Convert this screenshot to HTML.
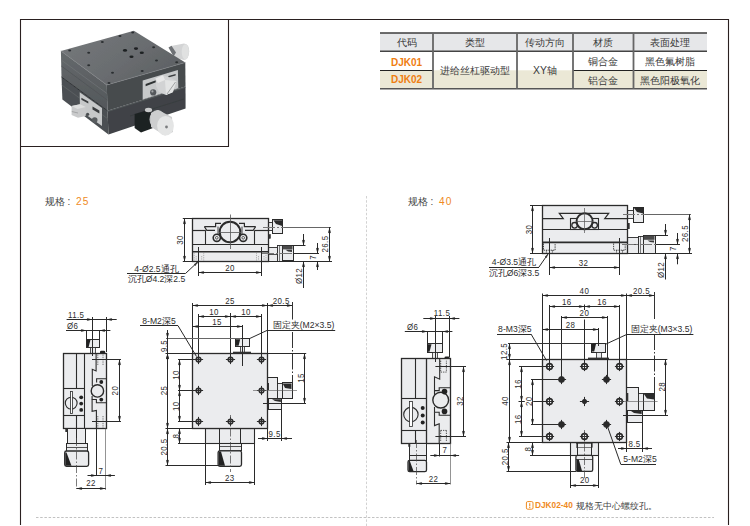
<!DOCTYPE html>
<html><head><meta charset="utf-8">
<style>
html,body{margin:0;padding:0;background:#fff;}
body{width:750px;height:526px;overflow:hidden;position:relative;font-family:"Liberation Sans",sans-serif;}
svg{position:absolute;left:0;top:0;}
svg text{font-family:"Liberation Sans",sans-serif;}
table.t{position:absolute;left:380px;top:32px;border-collapse:collapse;font-size:10.5px;color:#3a3a3a;}
</style></head><body>
<svg width="750" height="526" viewBox="0 0 750 526">
<line x1="20.00" y1="19.50" x2="728.50" y2="19.50" stroke="#2a2020" stroke-width="1.1"/>
<line x1="20.50" y1="19.00" x2="20.50" y2="525.00" stroke="#2a2020" stroke-width="1.1"/>
<line x1="728.50" y1="19.00" x2="728.50" y2="525.00" stroke="#2a2020" stroke-width="1.1"/>
<line x1="20.00" y1="146.50" x2="228.50" y2="146.50" stroke="#2a2020" stroke-width="1.1"/>
<line x1="228.50" y1="19.00" x2="228.50" y2="147.00" stroke="#2a2020" stroke-width="1.1"/>
<line x1="36.00" y1="517.50" x2="714.00" y2="517.50" stroke="#c2c2c2" stroke-width="1" stroke-dasharray="2.5 1.7"/>
<line x1="366.50" y1="196.00" x2="366.50" y2="526.00" stroke="#d2d2d2" stroke-width="1" stroke-dasharray="2.5 1.7"/>
<defs>
<linearGradient id="gtop" x1="0" y1="0" x2="1" y2="0.6">
<stop offset="0" stop-color="#76797c"/><stop offset="0.6" stop-color="#6a6d70"/><stop offset="1" stop-color="#5e6164"/></linearGradient>
<linearGradient id="gleft" x1="0" y1="0" x2="0" y2="1">
<stop offset="0" stop-color="#65696c"/><stop offset="1" stop-color="#53575a"/></linearGradient>
<linearGradient id="gknob" x1="0" y1="0" x2="1" y2="1">
<stop offset="0" stop-color="#eeeeee"/><stop offset="1" stop-color="#a4a6a7"/></linearGradient>
<linearGradient id="gknob2" x1="0" y1="0" x2="1" y2="0">
<stop offset="0" stop-color="#9c9ea0"/><stop offset="0.5" stop-color="#d9dadb"/><stop offset="1" stop-color="#c2c4c5"/></linearGradient>
<filter id="soft" x="-5%" y="-5%" width="110%" height="110%"><feGaussianBlur stdDeviation="0.35"/></filter>
</defs>
<g filter="url(#soft)">
<path d="M171,46 L184,43.5 Q189.5,44 189.2,51.5 Q188.8,59.5 184,60 L174,57.5 Z" fill="#d3d4d5"/>
<ellipse cx="185.3" cy="51.8" rx="3.6" ry="7.6" fill="#e0e1e1"/>
<polygon points="168.5,47.5 171.5,45.8 176,52.5 173.5,56.5" fill="#6e7174"/>
<polygon points="60.9,50.9 106.8,84.9 107.5,110.8 61.5,77" fill="url(#gleft)"/>
<polygon points="61.5,77 107.5,110.8 108.5,134.5 62.4,99.5" fill="#4c5053"/>
<polyline points="61.2,60 107,93.5" stroke="#6e7275" stroke-width="0.8" fill="none"/>
<polyline points="61.3,66 107.2,100" stroke="#505457" stroke-width="0.8" fill="none"/>
<polyline points="61.8,85 108,119" stroke="#5e6265" stroke-width="0.8" fill="none"/>
<polygon points="106.8,84.9 185.3,62.5 185.5,86.6 107.5,110.8" fill="#474b4e"/>
<polygon points="107.5,110.8 185.5,86.6 185.6,108.4 108.5,134.5" fill="#3f4346"/>
<polyline points="107.5,111.5 185.5,87.3" stroke="#5c6063" stroke-width="0.7" fill="none"/>
<polyline points="130,116 184,99" stroke="#34373a" stroke-width="0.6" fill="none"/>
<polygon points="60.9,50.9 133.9,30.7 185.3,62.5 106.8,84.9" fill="url(#gtop)"/>
<polyline points="60.9,50.9 106.8,84.9 185.3,62.5" stroke="#7c8083" stroke-width="0.7" fill="none"/>
<polyline points="61.5,77 107.5,110.8" stroke="#2f3235" stroke-width="1" fill="none"/>
<ellipse cx="69.7" cy="50.4" rx="1.5" ry="1" fill="#2c2f31"/>
<ellipse cx="88.7" cy="52.8" rx="1.5" ry="1" fill="#2c2f31"/>
<ellipse cx="102.3" cy="41.9" rx="1.5" ry="1" fill="#2c2f31"/>
<ellipse cx="132.7" cy="32.4" rx="1.5" ry="1" fill="#2c2f31"/>
<ellipse cx="153.6" cy="47.3" rx="1.5" ry="1" fill="#2c2f31"/>
<ellipse cx="88.7" cy="65.2" rx="1.5" ry="1" fill="#2c2f31"/>
<ellipse cx="112.5" cy="72.8" rx="1.5" ry="1" fill="#2c2f31"/>
<ellipse cx="142.2" cy="71.1" rx="1.5" ry="1" fill="#2c2f31"/>
<ellipse cx="156.5" cy="60.4" rx="1.5" ry="1" fill="#2c2f31"/>
<ellipse cx="176.7" cy="62.3" rx="1.5" ry="1" fill="#2c2f31"/>
<ellipse cx="109" cy="83" rx="1.5" ry="1" fill="#2c2f31"/>
<ellipse cx="120" cy="36" rx="1.5" ry="1" fill="#2c2f31"/>
<ellipse cx="125" cy="50.4" rx="2.1" ry="1.3" fill="#1e2022"/>
<ellipse cx="136" cy="48.6" rx="2.1" ry="1.3" fill="#1e2022"/>
<ellipse cx="141.8" cy="52.8" rx="2.1" ry="1.3" fill="#1e2022"/>
<ellipse cx="131.5" cy="56.8" rx="2.1" ry="1.3" fill="#1e2022"/>
<polygon points="142.7,80.6 177.9,69.9 178.3,88.2 142.7,99.6" fill="#c7c9ca"/>
<polygon points="145.6,84 156.6,79.9 156.6,82.1 145.6,86.3" fill="#2e3133"/>
<circle cx="153.2" cy="92.4" r="3.1" fill="#55595c"/>
<circle cx="152.4" cy="91.4" r="1.1" fill="#a4a6a8"/>
<polygon points="168.4,75.9 175.6,73.9 175.6,75.6 168.4,77.6" fill="#3a3d3f"/>
<polygon points="155.5,78.5 163,75.3 172,78.5 176.5,81 173,92 166,95 159,92 156,86" fill="#d2d3d4"/>
<polygon points="165,80 176.5,81 172.5,92.5 166,95" fill="#e3e4e4"/>
<line x1="167" y1="94" x2="175.5" y2="82" stroke="#8d8f91" stroke-width="0.8"/>
<polygon points="155.5,78.5 163,75.3 165,80 158,83" fill="#e8e8e8"/>
<polygon points="79.7,92.3 102,108 102,126 80,110.5" fill="#c6c8c9"/>
<polygon points="81.4,97.8 88.3,101.5 88.3,103.5 81.4,99.8" fill="#3a3d3f"/>
<polygon points="92.5,106.4 99.4,110.5 99.4,113.5 92.5,109.4" fill="#3a3d3f"/>
<circle cx="94.7" cy="120.1" r="2.8" fill="#585c5f"/>
<circle cx="87.6" cy="114.3" r="1.6" fill="#4a4d50"/>
<polygon points="71.6,106 80,104.3 85.7,107 85.7,116 78,117.8 71.6,115" fill="#c9cacb"/>
<polygon points="71.6,106 80,104.3 85.7,107 77.5,109" fill="#dddede"/>
<line x1="71.8" y1="111.5" x2="78" y2="113" stroke="#9a9c9d" stroke-width="0.8"/>
<polygon points="134.6,114 150,109.5 153,128 141,132.5 134.6,128" fill="#1f2224"/>
<ellipse cx="148.5" cy="110" rx="3.6" ry="2.2" fill="#c9cacb"/>
<ellipse cx="157.5" cy="119.5" rx="8" ry="9.6" fill="#c2c4c5"/>
<polygon points="151,113 158,109.9 172,117 173,132 165,135.5 151,127" fill="#cdcecf"/>
<ellipse cx="165.5" cy="125.8" rx="8.4" ry="9.8" fill="#e4e5e5"/>
<circle cx="166.5" cy="127" r="1.4" fill="#7a7c7e"/>
</g>
<rect x="380" y="33" width="327" height="18.200000000000003" fill="#e6e7e9"/>
<rect x="380" y="70.3" width="327" height="18.5" fill="#ebe8d6"/>
<line x1="380.00" y1="33.00" x2="707.00" y2="33.00" stroke="#3c3c3c" stroke-width="1.5"/>
<line x1="380.00" y1="51.20" x2="707.00" y2="51.20" stroke="#444" stroke-width="1.4"/>
<line x1="380.00" y1="70.50" x2="433.00" y2="70.50" stroke="#222" stroke-width="1.1"/>
<line x1="573.00" y1="70.50" x2="707.00" y2="70.50" stroke="#222" stroke-width="1.1"/>
<line x1="380.00" y1="88.80" x2="707.00" y2="88.80" stroke="#555" stroke-width="1.5"/>
<line x1="433.00" y1="33.00" x2="433.00" y2="88.80" stroke="#666" stroke-width="1.8"/>
<line x1="517.00" y1="33.00" x2="517.00" y2="88.80" stroke="#666" stroke-width="1.8"/>
<line x1="573.00" y1="33.00" x2="573.00" y2="88.80" stroke="#666" stroke-width="1.8"/>
<line x1="633.50" y1="33.00" x2="633.50" y2="88.80" stroke="#666" stroke-width="1.8"/>
<text x="406.5" y="46.0" font-size="10.4" text-anchor="middle" fill="#3a3a3a" font-weight="normal">代码</text>
<text x="475.0" y="46.0" font-size="10.4" text-anchor="middle" fill="#3a3a3a" font-weight="normal">类型</text>
<text x="545.0" y="46.0" font-size="10.4" text-anchor="middle" fill="#3a3a3a" font-weight="normal">传动方向</text>
<text x="603.2" y="46.0" font-size="10.4" text-anchor="middle" fill="#3a3a3a" font-weight="normal">材质</text>
<text x="670.2" y="46.0" font-size="10.4" text-anchor="middle" fill="#3a3a3a" font-weight="normal">表面处理</text>
<text x="406.5" y="66.0" font-size="10.0" text-anchor="middle" fill="#ef7d10" font-weight="bold">DJK01</text>
<text x="406.5" y="83.0" font-size="10.0" text-anchor="middle" fill="#ef7d10" font-weight="bold">DJK02</text>
<text x="475.0" y="74.0" font-size="10.4" text-anchor="middle" fill="#3a3a3a" font-weight="normal">进给丝杠驱动型</text>
<text x="545.0" y="74.0" font-size="10.4" text-anchor="middle" fill="#3a3a3a" font-weight="normal">XY轴</text>
<text x="603.2" y="65.0" font-size="10.4" text-anchor="middle" fill="#3a3a3a" font-weight="normal">铜合金</text>
<text x="603.2" y="84.0" font-size="10.4" text-anchor="middle" fill="#3a3a3a" font-weight="normal">铝合金</text>
<text x="670.2" y="65.0" font-size="10.4" text-anchor="middle" fill="#3a3a3a" font-weight="normal">黑色氟树脂</text>
<text x="670.2" y="84.0" font-size="10.4" text-anchor="middle" fill="#3a3a3a" font-weight="normal">黑色阳极氧化</text>
<text x="45.0" y="205.0" font-size="10" text-anchor="start" fill="#444" font-weight="normal">规格</text>
<text x="67.4" y="205.0" font-size="10" text-anchor="start" fill="#444" font-weight="normal">:</text>
<text x="76.0" y="205.0" font-size="10.2" text-anchor="start" fill="#ef8a1e" font-weight="normal" letter-spacing="1.2">25</text>
<rect x="268.5" y="222.5" width="4.0" height="8.0" fill="#ebecee" stroke="#2b2b2b" stroke-width="0.9"/>
<rect x="272.5" y="219.5" width="10.0" height="14.0" fill="#ebecee" stroke="#2b2b2b" stroke-width="1.0"/>
<polygon points="273.3,220.3 282.2,220.3 282.2,226 276,224" fill="#2b2b2b"/>
<rect x="268.5" y="234.5" width="2.0" height="4.0" fill="#333" stroke="#2b2b2b" stroke-width="0.5"/>
<rect x="268.5" y="247.5" width="9.0" height="14.0" fill="#ebecee" stroke="#2b2b2b" stroke-width="0.9"/>
<line x1="268.00" y1="254.50" x2="277.40" y2="254.50" stroke="#2b2b2b" stroke-width="0.8"/>
<rect x="277.5" y="245.5" width="5.0" height="16.0" fill="#ebecee" stroke="#2b2b2b" stroke-width="0.9"/>
<line x1="279.50" y1="245.50" x2="279.50" y2="261.30" stroke="#2b2b2b" stroke-width="0.6"/>
<rect x="282.5" y="245.5" width="11.0" height="15.0" fill="#ebecee" stroke="#2b2b2b" stroke-width="1.0"/>
<rect x="282.7" y="245.8" width="9.8" height="3.6" fill="#4a4a4a"/>
<polygon points="285.5,249.8 292,249.8 292,252 288,251.4" fill="#3a3a3a"/>
<rect x="192.5" y="218.5" width="76.0" height="43.0" fill="#ebecee" stroke="#2b2b2b" stroke-width="1.3"/>
<line x1="192.40" y1="230.50" x2="205.60" y2="230.50" stroke="#2b2b2b" stroke-width="1.2"/>
<line x1="254.60" y1="230.50" x2="268.00" y2="230.50" stroke="#2b2b2b" stroke-width="1.2"/>
<line x1="205.50" y1="230.40" x2="205.50" y2="244.00" stroke="#2b2b2b" stroke-width="1.1"/>
<line x1="254.50" y1="230.40" x2="254.50" y2="244.00" stroke="#2b2b2b" stroke-width="1.1"/>
<line x1="192.40" y1="244.50" x2="268.00" y2="244.50" stroke="#2b2b2b" stroke-width="1.2"/>
<line x1="192.40" y1="251.80" x2="268.00" y2="251.80" stroke="#2b2b2b" stroke-width="1.6"/>
<polyline points="204.4,226.6 215.6,226.6 215.6,223.4 221.0,223.4" fill="none" stroke="#2b2b2b" stroke-width="1.2"/>
<polyline points="204.4,226.6 206.8,230.4 215.0,230.4" fill="none" stroke="#2b2b2b" stroke-width="1.1"/>
<polyline points="218.0,226.6 218.0,234.5" fill="none" stroke="#2b2b2b" stroke-width="0.9"/>
<polyline points="255.6,226.6 244.4,226.6 244.4,223.4 239.0,223.4" fill="none" stroke="#2b2b2b" stroke-width="1.2"/>
<polyline points="255.6,226.6 253.2,230.4 245.0,230.4" fill="none" stroke="#2b2b2b" stroke-width="1.1"/>
<polyline points="242.0,226.6 242.0,234.5" fill="none" stroke="#2b2b2b" stroke-width="0.9"/>
<circle cx="216.8" cy="237.8" r="3.6" fill="#ebecee" stroke="#2b2b2b" stroke-width="1.6"/>
<circle cx="216.8" cy="237.8" r="1.3" fill="#fff" stroke="#2b2b2b" stroke-width="0.8"/>
<circle cx="243.2" cy="237.8" r="3.6" fill="#ebecee" stroke="#2b2b2b" stroke-width="1.6"/>
<circle cx="243.2" cy="237.8" r="1.3" fill="#fff" stroke="#2b2b2b" stroke-width="0.8"/>
<circle cx="230" cy="232" r="10.3" fill="#ebecee" stroke="#2b2b2b" stroke-width="2"/>
<line x1="230.50" y1="214.50" x2="230.50" y2="249.00" stroke="#555" stroke-width="0.8"/>
<line x1="219.00" y1="232.50" x2="241.00" y2="232.50" stroke="#555" stroke-width="0.8"/>
<path d="M194.2,252.5 v8 M203.7,252.5 v8 M196.2,256 v4.5 M201.7,256 v4.5" stroke="#888" stroke-width="0.6" stroke-dasharray="1.3 1"/>
<path d="M256.5,252.5 v8 M266.0,252.5 v8 M258.5,256 v4.5 M264.0,256 v4.5" stroke="#888" stroke-width="0.6" stroke-dasharray="1.3 1"/>
<line x1="182.80" y1="218.50" x2="192.40" y2="218.50" stroke="#2a2a2a" stroke-width="1.0"/>
<line x1="182.80" y1="261.50" x2="192.40" y2="261.50" stroke="#2a2a2a" stroke-width="1.0"/>
<line x1="184.50" y1="218.60" x2="184.50" y2="261.30" stroke="#2a2a2a" stroke-width="1.0"/>
<polygon points="184.50,218.50 183.15,223.50 184.50,224.80 185.85,223.50" fill="#222"/>
<polygon points="184.50,261.50 183.15,256.50 184.50,255.20 185.85,256.50" fill="#222"/>
<text x="0" y="0" font-size="8.8" text-anchor="middle" fill="#2e2e2e" letter-spacing="0.45" transform="translate(182.8 240.0) rotate(-90) scale(0.9 1)">30</text>
<line x1="198.50" y1="247.00" x2="198.50" y2="276.00" stroke="#2a2a2a" stroke-width="1.0"/>
<line x1="261.50" y1="247.00" x2="261.50" y2="276.00" stroke="#2a2a2a" stroke-width="1.0"/>
<line x1="198.50" y1="272.50" x2="261.50" y2="272.50" stroke="#2a2a2a" stroke-width="1.0"/>
<polygon points="198.50,272.50 203.50,271.15 204.80,272.50 203.50,273.85" fill="#222"/>
<polygon points="261.50,272.50 256.50,271.15 255.20,272.50 256.50,273.85" fill="#222"/>
<text x="0" y="0" font-size="8.8" text-anchor="middle" fill="#2e2e2e" letter-spacing="0.45" transform="translate(230.0 271.0) scale(0.9 1)">20</text>
<line x1="263.00" y1="227.50" x2="284.00" y2="227.50" stroke="#777" stroke-width="1.0" stroke-dasharray="12 2 2 2"/>
<line x1="284.00" y1="227.50" x2="331.00" y2="227.50" stroke="#666" stroke-width="1.0"/>
<line x1="293.00" y1="245.50" x2="305.50" y2="245.50" stroke="#2a2a2a" stroke-width="1.0"/>
<line x1="262.00" y1="253.50" x2="294.00" y2="253.50" stroke="#777" stroke-width="1.0" stroke-dasharray="12 2 2 2"/>
<line x1="294.00" y1="253.50" x2="319.00" y2="253.50" stroke="#2a2a2a" stroke-width="1.0"/>
<line x1="268.00" y1="261.50" x2="332.00" y2="261.50" stroke="#2a2a2a" stroke-width="1.0"/>
<line x1="303.50" y1="234.00" x2="303.50" y2="245.30" stroke="#2a2a2a" stroke-width="1.0"/>
<polygon points="303.50,245.50 302.15,240.50 303.50,239.20 304.85,240.50" fill="#222"/>
<line x1="303.50" y1="261.30" x2="303.50" y2="288.00" stroke="#2a2a2a" stroke-width="1.0"/>
<polygon points="303.50,261.50 302.15,266.50 303.50,267.80 304.85,266.50" fill="#222"/>
<text x="0" y="0" font-size="8.8" text-anchor="middle" fill="#2e2e2e" letter-spacing="0.45" transform="translate(302.0 276.0) rotate(-90) scale(0.9 1)">Ø12</text>
<line x1="317.50" y1="243.00" x2="317.50" y2="253.20" stroke="#2a2a2a" stroke-width="1.0"/>
<polygon points="317.50,253.50 316.15,248.50 317.50,247.20 318.85,248.50" fill="#222"/>
<line x1="317.50" y1="261.30" x2="317.50" y2="270.00" stroke="#2a2a2a" stroke-width="1.0"/>
<polygon points="317.50,261.50 316.15,266.50 317.50,267.80 318.85,266.50" fill="#222"/>
<text x="0" y="0" font-size="8.8" text-anchor="middle" fill="#2e2e2e" letter-spacing="0.45" transform="translate(316.0 257.3) rotate(-90) scale(0.9 1)">7</text>
<line x1="329.50" y1="227.00" x2="329.50" y2="261.30" stroke="#2a2a2a" stroke-width="1.0"/>
<polygon points="329.50,227.50 328.15,232.50 329.50,233.80 330.85,232.50" fill="#222"/>
<polygon points="329.50,261.50 328.15,256.50 329.50,255.20 330.85,256.50" fill="#222"/>
<text x="0" y="0" font-size="8.8" text-anchor="middle" fill="#2e2e2e" letter-spacing="0.45" transform="translate(328.3 244.0) rotate(-90) scale(0.9 1)">26.5</text>
<line x1="127.00" y1="273.50" x2="185.60" y2="273.50" stroke="#2a2a2a" stroke-width="1.0"/>
<line x1="185.60" y1="273.40" x2="197.60" y2="262.20" stroke="#2a2a2a" stroke-width="1.0"/>
<polygon points="197.50,262.50 197.50,261.15 196.20,262.50 197.50,263.85" fill="#222"/>
<polygon points="197.8,262 193.8,264.3 195.5,266" fill="#3a3a3a"/>
<text x="156.5" y="271.8" font-size="8.6" text-anchor="middle" fill="#2e2e2e" font-weight="normal">4-Ø2.5通孔</text>
<text x="156.5" y="282.0" font-size="8.6" text-anchor="middle" fill="#2e2e2e" font-weight="normal">沉孔Ø4.2深2.5</text>
<rect x="86.5" y="330.5" width="13.0" height="9.0" fill="#fff" stroke="#2b2b2b" stroke-width="1.0"/>
<rect x="86.5" y="339.5" width="13.0" height="8.0" fill="#ebecee" stroke="#2b2b2b" stroke-width="1.0"/>
<polygon points="86.9,339.7 90.5,339.7 88.6,347 86.9,347" fill="#222"/>
<rect x="90.5" y="347.5" width="5.0" height="6.0" fill="#ebecee" stroke="#2b2b2b" stroke-width="0.8"/>
<path d="M100,353.3 v-1.3 q0,-1.3 1.3,-1.3 h2.6 q1.3,0 1.3,1.3 v1.3z" fill="#222"/>
<rect x="63.5" y="353.5" width="43.0" height="75.0" fill="#ebecee" stroke="#2b2b2b" stroke-width="1.3"/>
<line x1="76.50" y1="353.40" x2="76.50" y2="388.40" stroke="#2b2b2b" stroke-width="1.1"/>
<line x1="84.50" y1="353.40" x2="84.50" y2="428.60" stroke="#2b2b2b" stroke-width="1.1"/>
<line x1="63.40" y1="388.50" x2="84.80" y2="388.50" stroke="#2b2b2b" stroke-width="1.1"/>
<line x1="63.40" y1="415.50" x2="84.80" y2="415.50" stroke="#2b2b2b" stroke-width="1.1"/>
<line x1="76.50" y1="415.60" x2="76.50" y2="428.60" stroke="#2b2b2b" stroke-width="1.1"/>
<circle cx="71.2" cy="403.1" r="5.9" fill="#ebecee" stroke="#2b2b2b" stroke-width="1.1"/>
<rect x="70.5" y="391.5" width="2.0" height="22.0" fill="#fff" stroke="#2b2b2b" stroke-width="0.8"/>
<circle cx="81.2" cy="397.3" r="1.9" fill="#222"/>
<circle cx="81.2" cy="403.6" r="1.9" fill="#222"/>
<circle cx="81.2" cy="409.9" r="1.9" fill="#222"/>
<polyline points="96.1,353.4 96.1,371 92.3,369.3 92.3,386" fill="none" stroke="#2b2b2b" stroke-width="1.1"/>
<polyline points="96.6,382.5 96.6,378.7 106.1,378.7" fill="none" stroke="#2b2b2b" stroke-width="1.1"/>
<circle cx="97.4" cy="390.9" r="6.2" fill="#ebecee" stroke="#2b2b2b" stroke-width="1.4"/>
<circle cx="101.3" cy="382" r="1.9" fill="#222"/>
<circle cx="101.3" cy="399.6" r="1.9" fill="#222"/>
<polyline points="92.1,396 92.1,399.5 96.4,399.5 96.4,402.8 106.1,402.8" fill="none" stroke="#2b2b2b" stroke-width="1.1"/>
<polyline points="92.1,399.5 92.1,411.4 96.4,410.4 96.4,428.6" fill="none" stroke="#2b2b2b" stroke-width="1.1"/>
<path d="M97.8,354.5 v11 M103,354.5 v11 M97.8,416 v12 M103,416 v12" stroke="#555" stroke-width="0.8" stroke-dasharray="1.3 1"/>
<rect x="67.5" y="428.5" width="18.0" height="15.0" fill="#ebecee" stroke="#2b2b2b" stroke-width="1.0"/>
<line x1="76.50" y1="428.60" x2="76.50" y2="443.50" stroke="#2b2b2b" stroke-width="1"/>
<rect x="65.3" y="428.6" width="2.2" height="3.4" fill="#333"/>
<rect x="66.5" y="443.5" width="21.0" height="8.0" fill="#ebecee" stroke="#2b2b2b" stroke-width="1.0"/>
<line x1="66.40" y1="447.50" x2="87.00" y2="447.50" stroke="#2b2b2b" stroke-width="0.8"/>
<rect x="64.7" y="451" width="23.9" height="15.4" rx="1.8" fill="#ebecee" stroke="#2b2b2b" stroke-width="1.3"/>
<polygon points="65.3,452.5 66.5,452.5 71.5,465.8 65.3,465.8" fill="#222"/>
<line x1="76.50" y1="438.00" x2="76.50" y2="489.00" stroke="#444" stroke-width="0.7" stroke-dasharray="8 2 1.5 2"/>
<line x1="66.60" y1="319.50" x2="116.70" y2="319.50" stroke="#2a2a2a" stroke-width="1.0"/>
<polygon points="92.50,319.50 87.50,318.15 86.20,319.50 87.50,320.85" fill="#222"/>
<polygon points="106.50,319.50 111.50,318.15 112.80,319.50 111.50,320.85" fill="#222"/>
<line x1="92.50" y1="317.00" x2="92.50" y2="356.00" stroke="#2a2a2a" stroke-width="1.0"/>
<line x1="106.50" y1="317.00" x2="106.50" y2="352.00" stroke="#2a2a2a" stroke-width="1.0"/>
<text x="0" y="0" font-size="8.8" text-anchor="start" fill="#2e2e2e" letter-spacing="0.45" transform="translate(68.0 318.0) scale(0.9 1)">11.5</text>
<line x1="66.00" y1="330.50" x2="110.40" y2="330.50" stroke="#2a2a2a" stroke-width="1.0"/>
<polygon points="86.50,330.50 81.50,329.15 80.20,330.50 81.50,331.85" fill="#222"/>
<polygon points="99.50,330.50 104.50,329.15 105.80,330.50 104.50,331.85" fill="#222"/>
<text x="0" y="0" font-size="8.8" text-anchor="start" fill="#2e2e2e" letter-spacing="0.45" transform="translate(67.0 328.5) scale(0.9 1)">Ø6</text>
<line x1="92.00" y1="359.50" x2="121.00" y2="359.50" stroke="#2a2a2a" stroke-width="1.0"/>
<line x1="92.00" y1="421.50" x2="121.00" y2="421.50" stroke="#2a2a2a" stroke-width="1.0"/>
<line x1="119.50" y1="359.40" x2="119.50" y2="421.80" stroke="#2a2a2a" stroke-width="1.0"/>
<polygon points="119.50,359.50 118.15,364.50 119.50,365.80 120.85,364.50" fill="#222"/>
<polygon points="119.50,421.50 118.15,416.50 119.50,415.20 120.85,416.50" fill="#222"/>
<text x="0" y="0" font-size="8.8" text-anchor="middle" fill="#2e2e2e" letter-spacing="0.45" transform="translate(117.8 390.6) rotate(-90) scale(0.9 1)">20</text>
<line x1="96.50" y1="428.60" x2="96.50" y2="476.00" stroke="#2a2a2a" stroke-width="1.0"/>
<line x1="105.50" y1="428.60" x2="105.50" y2="490.00" stroke="#666" stroke-width="0.7"/>
<line x1="87.50" y1="475.50" x2="114.90" y2="475.50" stroke="#2a2a2a" stroke-width="1.0"/>
<polygon points="96.50,475.50 91.50,474.15 90.20,475.50 91.50,476.85" fill="#222"/>
<polygon points="105.50,475.50 110.50,474.15 111.80,475.50 110.50,476.85" fill="#222"/>
<text x="0" y="0" font-size="8.8" text-anchor="middle" fill="#2e2e2e" letter-spacing="0.45" transform="translate(101.0 473.6) scale(0.9 1)">7</text>
<line x1="76.40" y1="488.50" x2="105.70" y2="488.50" stroke="#2a2a2a" stroke-width="1.0"/>
<polygon points="76.50,488.50 81.50,487.15 82.80,488.50 81.50,489.85" fill="#222"/>
<polygon points="105.50,488.50 100.50,487.15 99.20,488.50 100.50,489.85" fill="#222"/>
<text x="0" y="0" font-size="8.8" text-anchor="middle" fill="#2e2e2e" letter-spacing="0.45" transform="translate(91.0 485.8) scale(0.9 1)">22</text>
<rect x="235.5" y="338.5" width="14.0" height="8.0" fill="#ebecee" stroke="#2b2b2b" stroke-width="1.0"/>
<polygon points="235.8,339.2 240.2,339.2 238.6,345.8 235.8,345.8" fill="#222"/>
<rect x="240.5" y="346.5" width="4.0" height="7.0" fill="#ebecee" stroke="#2b2b2b" stroke-width="0.8"/>
<rect x="233" y="351.7" width="18" height="1.6" fill="#333"/>
<rect x="267.5" y="377.5" width="10.0" height="24.0" fill="#ebecee" stroke="#2b2b2b" stroke-width="1.0"/>
<rect x="277.5" y="383.5" width="5.0" height="15.0" fill="#ebecee" stroke="#2b2b2b" stroke-width="0.9"/>
<rect x="282.5" y="382.5" width="10.0" height="16.0" fill="#ebecee" stroke="#2b2b2b" stroke-width="1.0"/>
<polygon points="282.7,383.4 291.5,383.4 291.5,389 285,388" fill="#2b2b2b"/>
<rect x="268.5" y="398.5" width="13.0" height="11.0" fill="#ebecee" stroke="#2b2b2b" stroke-width="1.0"/>
<polygon points="272,399.3 280.9,399.3 280.9,402 275,401" fill="#2b2b2b"/>
<rect x="266.5" y="383" width="2.5" height="7" fill="#333"/>
<rect x="205.5" y="428.5" width="49.0" height="15.0" fill="#ebecee" stroke="#2b2b2b" stroke-width="1.1"/>
<line x1="219.50" y1="428.20" x2="219.50" y2="443.30" stroke="#2b2b2b" stroke-width="1"/>
<line x1="240.50" y1="428.20" x2="240.50" y2="443.30" stroke="#2b2b2b" stroke-width="1"/>
<rect x="219.5" y="443.5" width="22.0" height="7.0" fill="#ebecee" stroke="#2b2b2b" stroke-width="1.0"/>
<line x1="219.40" y1="446.50" x2="241.00" y2="446.50" stroke="#2b2b2b" stroke-width="0.8"/>
<rect x="218.1" y="450.8" width="23.4" height="15.5" rx="1.8" fill="#ebecee" stroke="#2b2b2b" stroke-width="1.3"/>
<polygon points="218.7,451.6 221,451.6 225,465.7 218.7,465.7" fill="#222"/>
<rect x="192.5" y="353.5" width="75.0" height="75.0" fill="#ebecee" stroke="#2b2b2b" stroke-width="1.3"/>
<line x1="193.9" y1="359.5" x2="203.1" y2="359.5" stroke="#2b2b2b" stroke-width="1"/>
<line x1="198.5" y1="354.9" x2="198.5" y2="364.1" stroke="#2b2b2b" stroke-width="1"/>
<circle cx="198.5" cy="359.5" r="2.30" fill="none" stroke="#2b2b2b" stroke-width="1.6"/>
<line x1="256.9" y1="359.5" x2="266.1" y2="359.5" stroke="#2b2b2b" stroke-width="1"/>
<line x1="261.5" y1="354.9" x2="261.5" y2="364.1" stroke="#2b2b2b" stroke-width="1"/>
<circle cx="261.5" cy="359.5" r="2.30" fill="none" stroke="#2b2b2b" stroke-width="1.6"/>
<line x1="193.9" y1="390.5" x2="203.1" y2="390.5" stroke="#2b2b2b" stroke-width="1"/>
<line x1="198.5" y1="385.9" x2="198.5" y2="395.1" stroke="#2b2b2b" stroke-width="1"/>
<circle cx="198.5" cy="390.5" r="2.30" fill="none" stroke="#2b2b2b" stroke-width="1.6"/>
<line x1="256.9" y1="390.5" x2="266.1" y2="390.5" stroke="#2b2b2b" stroke-width="1"/>
<line x1="261.5" y1="385.9" x2="261.5" y2="395.1" stroke="#2b2b2b" stroke-width="1"/>
<circle cx="261.5" cy="390.5" r="2.30" fill="none" stroke="#2b2b2b" stroke-width="1.6"/>
<line x1="193.9" y1="421.5" x2="203.1" y2="421.5" stroke="#2b2b2b" stroke-width="1"/>
<line x1="198.5" y1="416.9" x2="198.5" y2="426.1" stroke="#2b2b2b" stroke-width="1"/>
<circle cx="198.5" cy="421.5" r="2.30" fill="none" stroke="#2b2b2b" stroke-width="1.6"/>
<line x1="256.9" y1="421.5" x2="266.1" y2="421.5" stroke="#2b2b2b" stroke-width="1"/>
<line x1="261.5" y1="416.9" x2="261.5" y2="426.1" stroke="#2b2b2b" stroke-width="1"/>
<circle cx="261.5" cy="421.5" r="2.30" fill="none" stroke="#2b2b2b" stroke-width="1.6"/>
<line x1="225.9" y1="359.5" x2="235.1" y2="359.5" stroke="#2b2b2b" stroke-width="1"/>
<line x1="230.5" y1="354.9" x2="230.5" y2="364.1" stroke="#2b2b2b" stroke-width="1"/>
<circle cx="230.5" cy="359.5" r="2.30" fill="none" stroke="#2b2b2b" stroke-width="1.6"/>
<line x1="225.9" y1="421.5" x2="235.1" y2="421.5" stroke="#2b2b2b" stroke-width="1"/>
<line x1="230.5" y1="416.9" x2="230.5" y2="426.1" stroke="#2b2b2b" stroke-width="1"/>
<circle cx="230.5" cy="421.5" r="2.30" fill="none" stroke="#2b2b2b" stroke-width="1.6"/>
<line x1="230.50" y1="415.00" x2="230.50" y2="472.00" stroke="#444" stroke-width="0.7" stroke-dasharray="8 2 1.5 2"/>
<line x1="230.50" y1="313.00" x2="230.50" y2="356.00" stroke="#2a2a2a" stroke-width="1.0"/>
<line x1="192.50" y1="303.00" x2="192.50" y2="353.00" stroke="#2a2a2a" stroke-width="1.0"/>
<line x1="192.40" y1="305.50" x2="267.40" y2="305.50" stroke="#2a2a2a" stroke-width="1.0"/>
<polygon points="192.50,305.50 197.50,304.15 198.80,305.50 197.50,306.85" fill="#222"/>
<polygon points="267.50,305.50 262.50,304.15 261.20,305.50 262.50,306.85" fill="#222"/>
<line x1="267.50" y1="303.00" x2="267.50" y2="353.00" stroke="#2a2a2a" stroke-width="1.0"/>
<text x="0" y="0" font-size="8.8" text-anchor="middle" fill="#2e2e2e" letter-spacing="0.45" transform="translate(230.0 303.6) scale(0.9 1)">25</text>
<line x1="198.50" y1="314.00" x2="198.50" y2="362.00" stroke="#2a2a2a" stroke-width="1.0"/>
<line x1="261.50" y1="314.00" x2="261.50" y2="362.00" stroke="#2a2a2a" stroke-width="1.0"/>
<line x1="198.30" y1="316.50" x2="230.00" y2="316.50" stroke="#2a2a2a" stroke-width="1.0"/>
<polygon points="198.50,316.50 203.50,315.15 204.80,316.50 203.50,317.85" fill="#222"/>
<polygon points="230.50,316.50 225.50,315.15 224.20,316.50 225.50,317.85" fill="#222"/>
<line x1="230.00" y1="316.50" x2="261.30" y2="316.50" stroke="#2a2a2a" stroke-width="1.0"/>
<polygon points="230.50,316.50 235.50,315.15 236.80,316.50 235.50,317.85" fill="#222"/>
<polygon points="261.50,316.50 256.50,315.15 255.20,316.50 256.50,317.85" fill="#222"/>
<text x="0" y="0" font-size="8.8" text-anchor="middle" fill="#2e2e2e" letter-spacing="0.45" transform="translate(214.0 314.5) scale(0.9 1)">10</text>
<text x="0" y="0" font-size="8.8" text-anchor="middle" fill="#2e2e2e" letter-spacing="0.45" transform="translate(246.0 314.5) scale(0.9 1)">10</text>
<line x1="242.50" y1="325.00" x2="242.50" y2="366.00" stroke="#2a2a2a" stroke-width="1.0"/>
<line x1="192.40" y1="326.50" x2="242.00" y2="326.50" stroke="#2a2a2a" stroke-width="1.0"/>
<polygon points="192.50,326.50 197.50,325.15 198.80,326.50 197.50,327.85" fill="#222"/>
<polygon points="242.50,326.50 237.50,325.15 236.20,326.50 237.50,327.85" fill="#222"/>
<text x="0" y="0" font-size="8.8" text-anchor="middle" fill="#2e2e2e" letter-spacing="0.45" transform="translate(217.0 325.0) scale(0.9 1)">15</text>
<line x1="267.40" y1="305.50" x2="292.00" y2="305.50" stroke="#2a2a2a" stroke-width="1.0"/>
<polygon points="267.50,305.50 272.50,304.15 273.80,305.50 272.50,306.85" fill="#222"/>
<polygon points="292.50,305.50 287.50,304.15 286.20,305.50 287.50,306.85" fill="#222"/>
<text x="0" y="0" font-size="8.8" text-anchor="middle" fill="#2e2e2e" letter-spacing="0.45" transform="translate(281.2 303.7) scale(0.9 1)">20.5</text>
<line x1="292.50" y1="302.00" x2="292.50" y2="319.50" stroke="#333" stroke-width="1.0"/>
<line x1="292.50" y1="332.00" x2="292.50" y2="383.00" stroke="#333" stroke-width="1.0" stroke-dasharray="16 2 1.5 2"/>
<line x1="166.00" y1="338.50" x2="241.00" y2="338.50" stroke="#666" stroke-width="1.0"/>
<line x1="165.50" y1="353.50" x2="192.40" y2="353.50" stroke="#2a2a2a" stroke-width="1.0"/>
<line x1="167.50" y1="330.00" x2="167.50" y2="353.30" stroke="#2a2a2a" stroke-width="1.0"/>
<polygon points="167.50,338.50 166.15,333.50 167.50,332.20 168.85,333.50" fill="#222"/>
<polygon points="167.50,353.50 166.15,358.50 167.50,359.80 168.85,358.50" fill="#222"/>
<text x="0" y="0" font-size="8.8" text-anchor="middle" fill="#2e2e2e" letter-spacing="0.45" transform="translate(166.5 346.0) rotate(-90) scale(0.9 1)">9.5</text>
<line x1="167.50" y1="353.30" x2="167.50" y2="428.20" stroke="#2a2a2a" stroke-width="1.0"/>
<polygon points="167.50,353.50 166.15,358.50 167.50,359.80 168.85,358.50" fill="#222"/>
<polygon points="167.50,428.50 166.15,423.50 167.50,422.20 168.85,423.50" fill="#222"/>
<text x="0" y="0" font-size="8.8" text-anchor="middle" fill="#2e2e2e" letter-spacing="0.45" transform="translate(166.8 390.5) rotate(-90) scale(0.9 1)">25</text>
<line x1="178.00" y1="359.50" x2="195.00" y2="359.50" stroke="#2a2a2a" stroke-width="1.0"/>
<line x1="178.00" y1="390.50" x2="195.00" y2="390.50" stroke="#2a2a2a" stroke-width="1.0"/>
<line x1="178.00" y1="421.50" x2="195.00" y2="421.50" stroke="#2a2a2a" stroke-width="1.0"/>
<line x1="179.50" y1="359.40" x2="179.50" y2="390.60" stroke="#2a2a2a" stroke-width="1.0"/>
<polygon points="179.50,359.50 178.15,364.50 179.50,365.80 180.85,364.50" fill="#222"/>
<polygon points="179.50,390.50 178.15,385.50 179.50,384.20 180.85,385.50" fill="#222"/>
<line x1="179.50" y1="390.60" x2="179.50" y2="421.80" stroke="#2a2a2a" stroke-width="1.0"/>
<polygon points="179.50,390.50 178.15,395.50 179.50,396.80 180.85,395.50" fill="#222"/>
<polygon points="179.50,421.50 178.15,416.50 179.50,415.20 180.85,416.50" fill="#222"/>
<text x="0" y="0" font-size="8.8" text-anchor="middle" fill="#2e2e2e" letter-spacing="0.45" transform="translate(179.0 375.0) rotate(-90) scale(0.9 1)">10</text>
<text x="0" y="0" font-size="8.8" text-anchor="middle" fill="#2e2e2e" letter-spacing="0.45" transform="translate(179.0 406.2) rotate(-90) scale(0.9 1)">10</text>
<line x1="165.50" y1="428.50" x2="192.40" y2="428.50" stroke="#2a2a2a" stroke-width="1.0"/>
<line x1="178.00" y1="443.50" x2="205.00" y2="443.50" stroke="#2a2a2a" stroke-width="1.0"/>
<line x1="179.50" y1="428.20" x2="179.50" y2="443.30" stroke="#2a2a2a" stroke-width="1.0"/>
<polygon points="179.50,428.50 178.15,433.50 179.50,434.80 180.85,433.50" fill="#222"/>
<polygon points="179.50,443.50 178.15,438.50 179.50,437.20 180.85,438.50" fill="#222"/>
<text x="0" y="0" font-size="8.8" text-anchor="middle" fill="#2e2e2e" letter-spacing="0.45" transform="translate(179.0 436.0) rotate(-90) scale(0.9 1)">8</text>
<line x1="165.50" y1="465.50" x2="218.00" y2="465.50" stroke="#2a2a2a" stroke-width="1.0"/>
<line x1="167.50" y1="428.20" x2="167.50" y2="465.80" stroke="#2a2a2a" stroke-width="1.0"/>
<polygon points="167.50,428.50 166.15,433.50 167.50,434.80 168.85,433.50" fill="#222"/>
<polygon points="167.50,465.50 166.15,460.50 167.50,459.20 168.85,460.50" fill="#222"/>
<text x="0" y="0" font-size="8.8" text-anchor="middle" fill="#2e2e2e" letter-spacing="0.45" transform="translate(166.7 447.0) rotate(-90) scale(0.9 1)">20.5</text>
<line x1="205.50" y1="443.00" x2="205.50" y2="485.00" stroke="#2a2a2a" stroke-width="1.0"/>
<line x1="254.50" y1="443.00" x2="254.50" y2="485.00" stroke="#2a2a2a" stroke-width="1.0"/>
<line x1="205.00" y1="482.50" x2="254.50" y2="482.50" stroke="#2a2a2a" stroke-width="1.0"/>
<polygon points="205.50,482.50 210.50,481.15 211.80,482.50 210.50,483.85" fill="#222"/>
<polygon points="254.50,482.50 249.50,481.15 248.20,482.50 249.50,483.85" fill="#222"/>
<text x="0" y="0" font-size="8.8" text-anchor="middle" fill="#2e2e2e" letter-spacing="0.45" transform="translate(229.7 480.7) scale(0.9 1)">23</text>
<line x1="281.50" y1="409.00" x2="281.50" y2="441.00" stroke="#2a2a2a" stroke-width="1.0"/>
<line x1="267.50" y1="428.20" x2="267.50" y2="441.00" stroke="#2a2a2a" stroke-width="1.0"/>
<line x1="258.00" y1="438.50" x2="292.00" y2="438.50" stroke="#2a2a2a" stroke-width="1.0"/>
<polygon points="267.50,438.50 262.50,437.15 261.20,438.50 262.50,439.85" fill="#222"/>
<polygon points="281.50,438.50 286.50,437.15 287.80,438.50 286.50,439.85" fill="#222"/>
<text x="0" y="0" font-size="8.8" text-anchor="middle" fill="#2e2e2e" letter-spacing="0.45" transform="translate(274.6 437.0) scale(0.9 1)">9.5</text>
<line x1="267.40" y1="353.50" x2="306.20" y2="353.50" stroke="#2a2a2a" stroke-width="1.0"/>
<line x1="263.00" y1="403.50" x2="306.00" y2="403.50" stroke="#2a2a2a" stroke-width="1.0"/>
<line x1="304.50" y1="353.30" x2="304.50" y2="403.00" stroke="#2a2a2a" stroke-width="1.0"/>
<polygon points="304.50,353.50 303.15,358.50 304.50,359.80 305.85,358.50" fill="#222"/>
<polygon points="304.50,403.50 303.15,398.50 304.50,397.20 305.85,398.50" fill="#222"/>
<text x="0" y="0" font-size="8.8" text-anchor="middle" fill="#2e2e2e" letter-spacing="0.45" transform="translate(303.6 378.0) rotate(-90) scale(0.9 1)">15</text>
<line x1="253.00" y1="390.50" x2="297.00" y2="390.50" stroke="#555" stroke-width="0.6"/>
<line x1="140.00" y1="325.50" x2="178.00" y2="325.50" stroke="#2a2a2a" stroke-width="1.0"/>
<line x1="178.00" y1="325.70" x2="196.50" y2="356.50" stroke="#2a2a2a" stroke-width="1.0"/>
<text x="159.0" y="324.0" font-size="8.6" text-anchor="middle" fill="#2e2e2e" font-weight="normal">8-M2深5</text>
<line x1="267.30" y1="330.50" x2="335.20" y2="330.50" stroke="#2a2a2a" stroke-width="1.0"/>
<line x1="267.30" y1="330.30" x2="249.30" y2="338.70" stroke="#2a2a2a" stroke-width="1.0"/>
<text x="303.5" y="328.0" font-size="8.6" text-anchor="middle" fill="#2e2e2e" font-weight="normal">固定夹(M2×3.5)</text>
<text x="408.0" y="205.0" font-size="10" text-anchor="start" fill="#444" font-weight="normal">规格</text>
<text x="430.4" y="205.0" font-size="10" text-anchor="start" fill="#444" font-weight="normal">:</text>
<text x="439.0" y="205.0" font-size="10.2" text-anchor="start" fill="#ef8a1e" font-weight="normal" letter-spacing="1.2">40</text>
<rect x="627.5" y="210.5" width="6.0" height="8.0" fill="#ebecee" stroke="#2b2b2b" stroke-width="0.9"/>
<rect x="633.5" y="207.5" width="10.0" height="15.0" fill="#ebecee" stroke="#2b2b2b" stroke-width="1.0"/>
<polygon points="633.8,207.8 643.2,207.8 643.2,213.5 637,212" fill="#2b2b2b"/>
<rect x="627.5" y="223" width="2.2" height="6" fill="#333"/>
<rect x="627.5" y="237.5" width="11.0" height="16.0" fill="#ebecee" stroke="#2b2b2b" stroke-width="0.9"/>
<line x1="627.70" y1="244.50" x2="638.00" y2="244.50" stroke="#2b2b2b" stroke-width="0.8"/>
<rect x="638.5" y="236.5" width="5.0" height="17.0" fill="#ebecee" stroke="#2b2b2b" stroke-width="0.9"/>
<line x1="640.50" y1="236.00" x2="640.50" y2="253.10" stroke="#2b2b2b" stroke-width="0.6"/>
<rect x="643.5" y="235.5" width="12.0" height="18.0" fill="#ebecee" stroke="#2b2b2b" stroke-width="1.0"/>
<rect x="643.8" y="235.8" width="10.7" height="4" fill="#4a4a4a"/>
<polygon points="647.5,240.5 654,240.5 654,242.6 650,242" fill="#3a3a3a"/>
<rect x="542.5" y="205.5" width="85.0" height="48.0" fill="#ebecee" stroke="#2b2b2b" stroke-width="1.3"/>
<polyline points="542.4,218.7 563.3,218.7 559.3,213.3 608.7,213.3 604.7,218.7 627.7,218.7" fill="none" stroke="#2b2b2b" stroke-width="1.2"/>
<rect x="570.5" y="218.5" width="28.0" height="11.0" fill="#ebecee" stroke="#2b2b2b" stroke-width="1.1"/>
<circle cx="574.6" cy="225.3" r="2.8" fill="#ebecee" stroke="#2b2b2b" stroke-width="1.3"/>
<circle cx="594.6" cy="225.3" r="2.8" fill="#ebecee" stroke="#2b2b2b" stroke-width="1.3"/>
<circle cx="584.6" cy="221.3" r="8" fill="#ebecee" stroke="#2b2b2b" stroke-width="2"/>
<line x1="542.40" y1="229.50" x2="627.70" y2="229.50" stroke="#2b2b2b" stroke-width="1.2"/>
<line x1="542.40" y1="242.40" x2="627.70" y2="242.40" stroke="#2b2b2b" stroke-width="1.6"/>
<line x1="584.50" y1="208.00" x2="584.50" y2="233.00" stroke="#555" stroke-width="0.7"/>
<line x1="576.00" y1="221.50" x2="593.00" y2="221.50" stroke="#555" stroke-width="0.7"/>
<path d="M543.5,243.5 v6.7 h11.6 v-6.7 M546.4,250.2 v3 M552.4,250.2 v3" fill="none" stroke="#333" stroke-width="0.9" stroke-dasharray="1.4 0.9"/>
<path d="M613.6,243.5 v6.7 h11.6 v-6.7 M616.5,250.2 v3 M622.5,250.2 v3" fill="none" stroke="#333" stroke-width="0.9" stroke-dasharray="1.4 0.9"/>
<line x1="549.50" y1="238.00" x2="549.50" y2="275.00" stroke="#2a2a2a" stroke-width="1.0"/>
<line x1="619.50" y1="238.00" x2="619.50" y2="275.00" stroke="#2a2a2a" stroke-width="1.0"/>
<line x1="530.00" y1="205.50" x2="542.40" y2="205.50" stroke="#2a2a2a" stroke-width="1.0"/>
<line x1="530.00" y1="253.50" x2="542.40" y2="253.50" stroke="#2a2a2a" stroke-width="1.0"/>
<line x1="532.50" y1="205.60" x2="532.50" y2="253.10" stroke="#2a2a2a" stroke-width="1.0"/>
<polygon points="532.50,205.50 531.15,210.50 532.50,211.80 533.85,210.50" fill="#222"/>
<polygon points="532.50,253.50 531.15,248.50 532.50,247.20 533.85,248.50" fill="#222"/>
<text x="0" y="0" font-size="8.8" text-anchor="middle" fill="#2e2e2e" letter-spacing="0.45" transform="translate(531.7 229.5) rotate(-90) scale(0.9 1)">30</text>
<line x1="549.40" y1="267.50" x2="619.40" y2="267.50" stroke="#2a2a2a" stroke-width="1.0"/>
<polygon points="549.50,267.50 554.50,266.15 555.80,267.50 554.50,268.85" fill="#222"/>
<polygon points="619.50,267.50 614.50,266.15 613.20,267.50 614.50,268.85" fill="#222"/>
<text x="0" y="0" font-size="8.8" text-anchor="middle" fill="#2e2e2e" letter-spacing="0.45" transform="translate(583.6 265.6) scale(0.9 1)">32</text>
<line x1="623.00" y1="214.50" x2="645.00" y2="214.50" stroke="#777" stroke-width="1.0" stroke-dasharray="12 2 2 2"/>
<line x1="645.00" y1="214.50" x2="691.00" y2="214.50" stroke="#666" stroke-width="1.0"/>
<line x1="655.00" y1="235.50" x2="668.00" y2="235.50" stroke="#2a2a2a" stroke-width="1.0"/>
<line x1="622.00" y1="244.50" x2="656.00" y2="244.50" stroke="#777" stroke-width="1.0" stroke-dasharray="12 2 2 2"/>
<line x1="656.00" y1="244.50" x2="680.00" y2="244.50" stroke="#2a2a2a" stroke-width="1.0"/>
<line x1="627.70" y1="253.50" x2="692.00" y2="253.50" stroke="#2a2a2a" stroke-width="1.0"/>
<line x1="665.50" y1="224.00" x2="665.50" y2="235.70" stroke="#2a2a2a" stroke-width="1.0"/>
<polygon points="665.50,235.50 664.15,230.50 665.50,229.20 666.85,230.50" fill="#222"/>
<line x1="665.50" y1="253.10" x2="665.50" y2="279.50" stroke="#2a2a2a" stroke-width="1.0"/>
<polygon points="665.50,253.50 664.15,258.50 665.50,259.80 666.85,258.50" fill="#222"/>
<text x="0" y="0" font-size="8.8" text-anchor="middle" fill="#2e2e2e" letter-spacing="0.45" transform="translate(663.5 270.0) rotate(-90) scale(0.9 1)">Ø12</text>
<line x1="677.50" y1="233.00" x2="677.50" y2="244.00" stroke="#2a2a2a" stroke-width="1.0"/>
<polygon points="677.50,244.50 676.15,239.50 677.50,238.20 678.85,239.50" fill="#222"/>
<line x1="677.50" y1="253.10" x2="677.50" y2="264.30" stroke="#2a2a2a" stroke-width="1.0"/>
<polygon points="677.50,253.50 676.15,258.50 677.50,259.80 678.85,258.50" fill="#222"/>
<text x="0" y="0" font-size="8.8" text-anchor="middle" fill="#2e2e2e" letter-spacing="0.45" transform="translate(676.2 248.6) rotate(-90) scale(0.9 1)">7</text>
<line x1="689.50" y1="214.30" x2="689.50" y2="253.10" stroke="#2a2a2a" stroke-width="1.0"/>
<polygon points="689.50,214.50 688.15,219.50 689.50,220.80 690.85,219.50" fill="#222"/>
<polygon points="689.50,253.50 688.15,248.50 689.50,247.20 690.85,248.50" fill="#222"/>
<text x="0" y="0" font-size="8.8" text-anchor="middle" fill="#2e2e2e" letter-spacing="0.45" transform="translate(688.3 233.5) rotate(-90) scale(0.9 1)">26.5</text>
<line x1="489.00" y1="267.50" x2="539.00" y2="267.50" stroke="#2a2a2a" stroke-width="1.0"/>
<line x1="539.00" y1="267.00" x2="548.00" y2="254.00" stroke="#2a2a2a" stroke-width="1.0"/>
<polygon points="548.2,253.8 544.8,256.8 546.7,258" fill="#3a3a3a"/>
<text x="514.0" y="264.8" font-size="8.6" text-anchor="middle" fill="#2e2e2e" font-weight="normal">4-Ø3.5通孔</text>
<text x="514.0" y="276.3" font-size="8.6" text-anchor="middle" fill="#2e2e2e" font-weight="normal">沉孔Ø6深3.5</text>
<rect x="427.5" y="331.5" width="15.0" height="12.0" fill="#fff" stroke="#2b2b2b" stroke-width="1.0"/>
<rect x="427.5" y="343.5" width="15.0" height="9.0" fill="#ebecee" stroke="#2b2b2b" stroke-width="1.0"/>
<polygon points="427.5,344.2 431.5,344.2 429.5,351.8 427.5,351.8" fill="#222"/>
<rect x="432.5" y="352.5" width="5.0" height="7.0" fill="#ebecee" stroke="#2b2b2b" stroke-width="0.8"/>
<path d="M444.5,359 v-1.3 q0,-1.3 1.3,-1.3 h2.6 q1.3,0 1.3,1.3 v1.3z" fill="#222"/>
<rect x="401.5" y="358.5" width="49.0" height="85.0" fill="#ebecee" stroke="#2b2b2b" stroke-width="1.3"/>
<line x1="415.50" y1="358.80" x2="415.50" y2="398.50" stroke="#2b2b2b" stroke-width="1.1"/>
<line x1="426.50" y1="358.80" x2="426.50" y2="443.30" stroke="#2b2b2b" stroke-width="1.3"/>
<line x1="401.80" y1="398.50" x2="426.40" y2="398.50" stroke="#2b2b2b" stroke-width="1.1"/>
<line x1="401.80" y1="430.50" x2="426.40" y2="430.50" stroke="#2b2b2b" stroke-width="1.1"/>
<line x1="415.50" y1="430.00" x2="415.50" y2="443.30" stroke="#2b2b2b" stroke-width="1.1"/>
<circle cx="410.9" cy="414.6" r="7.2" fill="#ebecee" stroke="#2b2b2b" stroke-width="1.1"/>
<rect x="409.5" y="401.5" width="3.0" height="25.0" fill="#fff" stroke="#2b2b2b" stroke-width="0.8"/>
<circle cx="422.7" cy="408" r="2" fill="#222"/>
<circle cx="422.7" cy="415.6" r="2" fill="#222"/>
<circle cx="422.7" cy="422.6" r="2" fill="#222"/>
<polyline points="439.7,358.8 439.7,379.2 434.5,376.8 434.5,395" fill="none" stroke="#2b2b2b" stroke-width="1.1"/>
<polyline points="434.5,390.6 439.2,390.6 439.2,387.8 450.2,387.8" fill="none" stroke="#2b2b2b" stroke-width="1.1"/>
<circle cx="440.7" cy="400.1" r="7.9" fill="#ebecee" stroke="#2b2b2b" stroke-width="1.4"/>
<circle cx="444.5" cy="391.6" r="2.8" fill="#222"/>
<circle cx="444.5" cy="411.4" r="2.8" fill="#222"/>
<polyline points="434.5,407 434.5,412.3 439.2,412.3 439.2,415.2 450.2,415.2" fill="none" stroke="#2b2b2b" stroke-width="1.1"/>
<polyline points="434.5,412.3 434.5,425.6 439.2,423.7 439.2,443.3" fill="none" stroke="#2b2b2b" stroke-width="1.1"/>
<path d="M440.7,360.7 v11.4 h5.7 v-11.4 M440.7,430.4 v11.4 M446.4,430.4 v11.4 M440.7,430.4 h5.7" fill="none" stroke="#444" stroke-width="0.9" stroke-dasharray="1.3 1"/>
<rect x="409.5" y="443.5" width="17.0" height="12.0" fill="#ebecee" stroke="#2b2b2b" stroke-width="1.0"/>
<rect x="408.3" y="443.3" width="2" height="3.5" fill="#333"/>
<rect x="409.5" y="455.5" width="17.0" height="5.0" fill="#ebecee" stroke="#2b2b2b" stroke-width="1.0"/>
<rect x="408" y="460.3" width="18.5" height="11.4" rx="1.6" fill="#ebecee" stroke="#2b2b2b" stroke-width="1.3"/>
<polygon points="408.6,461 409.8,461 413.5,471.1 408.6,471.1" fill="#222"/>
<line x1="416.50" y1="440.00" x2="416.50" y2="484.50" stroke="#444" stroke-width="0.7" stroke-dasharray="8 2 1.5 2"/>
<line x1="423.30" y1="318.50" x2="459.40" y2="318.50" stroke="#2a2a2a" stroke-width="1.0"/>
<polygon points="435.50,318.50 430.50,317.15 429.20,318.50 430.50,319.85" fill="#222"/>
<polygon points="449.50,318.50 454.50,317.15 455.80,318.50 454.50,319.85" fill="#222"/>
<line x1="435.50" y1="316.00" x2="435.50" y2="362.00" stroke="#2a2a2a" stroke-width="1.0"/>
<line x1="449.50" y1="316.00" x2="449.50" y2="357.00" stroke="#2a2a2a" stroke-width="1.0"/>
<text x="0" y="0" font-size="8.8" text-anchor="middle" fill="#2e2e2e" letter-spacing="0.45" transform="translate(442.0 315.6) scale(0.9 1)">11.5</text>
<line x1="404.80" y1="331.50" x2="452.40" y2="331.50" stroke="#2a2a2a" stroke-width="1.0"/>
<polygon points="427.50,331.50 422.50,330.15 421.20,331.50 422.50,332.85" fill="#222"/>
<polygon points="442.50,331.50 447.50,330.15 448.80,331.50 447.50,332.85" fill="#222"/>
<text x="0" y="0" font-size="8.8" text-anchor="start" fill="#2e2e2e" letter-spacing="0.45" transform="translate(407.0 329.5) scale(0.9 1)">Ø6</text>
<line x1="435.40" y1="366.50" x2="466.00" y2="366.50" stroke="#2a2a2a" stroke-width="1.0"/>
<line x1="435.40" y1="436.50" x2="466.00" y2="436.50" stroke="#2a2a2a" stroke-width="1.0"/>
<line x1="463.50" y1="366.40" x2="463.50" y2="436.30" stroke="#2a2a2a" stroke-width="1.0"/>
<polygon points="463.50,366.50 462.15,371.50 463.50,372.80 464.85,371.50" fill="#222"/>
<polygon points="463.50,436.50 462.15,431.50 463.50,430.20 464.85,431.50" fill="#222"/>
<text x="0" y="0" font-size="8.8" text-anchor="middle" fill="#2e2e2e" letter-spacing="0.45" transform="translate(463.0 401.0) rotate(-90) scale(0.9 1)">32</text>
<line x1="439.50" y1="443.30" x2="439.50" y2="456.50" stroke="#2a2a2a" stroke-width="1.0"/>
<line x1="450.50" y1="443.30" x2="450.50" y2="484.50" stroke="#666" stroke-width="0.7"/>
<line x1="430.30" y1="455.50" x2="459.10" y2="455.50" stroke="#2a2a2a" stroke-width="1.0"/>
<polygon points="439.50,455.50 434.50,454.15 433.20,455.50 434.50,456.85" fill="#222"/>
<polygon points="450.50,455.50 455.50,454.15 456.80,455.50 455.50,456.85" fill="#222"/>
<text x="0" y="0" font-size="8.8" text-anchor="middle" fill="#2e2e2e" letter-spacing="0.45" transform="translate(445.0 453.1) scale(0.9 1)">7</text>
<line x1="416.60" y1="483.50" x2="450.20" y2="483.50" stroke="#2a2a2a" stroke-width="1.0"/>
<polygon points="416.50,483.50 421.50,482.15 422.80,483.50 421.50,484.85" fill="#222"/>
<polygon points="450.50,483.50 445.50,482.15 444.20,483.50 445.50,484.85" fill="#222"/>
<text x="0" y="0" font-size="8.8" text-anchor="middle" fill="#2e2e2e" letter-spacing="0.45" transform="translate(433.5 481.5) scale(0.9 1)">22</text>
<rect x="591.5" y="343.5" width="14.0" height="9.0" fill="#ebecee" stroke="#2b2b2b" stroke-width="1.0"/>
<polygon points="591.6,343.9 596,343.9 594.2,351.5 591.6,351.5" fill="#222"/>
<rect x="596.5" y="352.5" width="5.0" height="7.0" fill="#ebecee" stroke="#2b2b2b" stroke-width="0.8"/>
<rect x="588" y="357.6" width="21" height="1.8" fill="#333"/>
<rect x="626.5" y="387.5" width="12.0" height="24.0" fill="#ebecee" stroke="#2b2b2b" stroke-width="1.0"/>
<rect x="638.5" y="393.5" width="5.0" height="17.0" fill="#ebecee" stroke="#2b2b2b" stroke-width="0.9"/>
<rect x="643.5" y="393.5" width="11.0" height="17.0" fill="#ebecee" stroke="#2b2b2b" stroke-width="1.0"/>
<polygon points="643.5,393.5 654.2,393.5 654.2,399.5 647,398.5" fill="#2b2b2b"/>
<rect x="627.5" y="410.5" width="15.0" height="12.0" fill="#ebecee" stroke="#2b2b2b" stroke-width="1.0"/>
<polygon points="631,411.1 641.7,411.1 641.7,414 634,413" fill="#2b2b2b"/>
<rect x="625.8" y="393" width="2.5" height="8" fill="#333"/>
<rect x="570.5" y="442.5" width="28.0" height="13.0" fill="#ebecee" stroke="#2b2b2b" stroke-width="1.1"/>
<line x1="577.50" y1="442.90" x2="577.50" y2="455.30" stroke="#2b2b2b" stroke-width="1"/>
<line x1="591.50" y1="442.90" x2="591.50" y2="455.30" stroke="#2b2b2b" stroke-width="1"/>
<rect x="576.5" y="443.5" width="16.0" height="4.0" fill="none" stroke="#2b2b2b" stroke-width="0.6"/>
<rect x="575.9" y="455.3" width="16.8" height="16" rx="1.6" fill="#ebecee" stroke="#2b2b2b" stroke-width="1.3"/>
<line x1="575.90" y1="459.50" x2="592.70" y2="459.50" stroke="#2b2b2b" stroke-width="0.8"/>
<polygon points="576.5,459.6 578.8,459.6 582,471 576.5,471" fill="#222"/>
<rect x="542.5" y="359.5" width="84.0" height="83.0" fill="#ebecee" stroke="#2b2b2b" stroke-width="1.3"/>
<line x1="544.9" y1="366.5" x2="554.1" y2="366.5" stroke="#2b2b2b" stroke-width="1"/>
<line x1="549.5" y1="361.9" x2="549.5" y2="371.1" stroke="#2b2b2b" stroke-width="1"/>
<circle cx="549.5" cy="366.5" r="2.90" fill="none" stroke="#2b2b2b" stroke-width="1.6"/>
<line x1="614.9" y1="366.5" x2="624.1" y2="366.5" stroke="#2b2b2b" stroke-width="1"/>
<line x1="619.5" y1="361.9" x2="619.5" y2="371.1" stroke="#2b2b2b" stroke-width="1"/>
<circle cx="619.5" cy="366.5" r="2.90" fill="none" stroke="#2b2b2b" stroke-width="1.6"/>
<line x1="544.9" y1="401.5" x2="554.1" y2="401.5" stroke="#2b2b2b" stroke-width="1"/>
<line x1="549.5" y1="396.9" x2="549.5" y2="406.1" stroke="#2b2b2b" stroke-width="1"/>
<circle cx="549.5" cy="401.5" r="2.90" fill="none" stroke="#2b2b2b" stroke-width="1.6"/>
<line x1="614.9" y1="401.5" x2="624.1" y2="401.5" stroke="#2b2b2b" stroke-width="1"/>
<line x1="619.5" y1="396.9" x2="619.5" y2="406.1" stroke="#2b2b2b" stroke-width="1"/>
<circle cx="619.5" cy="401.5" r="2.90" fill="none" stroke="#2b2b2b" stroke-width="1.6"/>
<line x1="544.9" y1="436.5" x2="554.1" y2="436.5" stroke="#2b2b2b" stroke-width="1"/>
<line x1="549.5" y1="431.9" x2="549.5" y2="441.1" stroke="#2b2b2b" stroke-width="1"/>
<circle cx="549.5" cy="436.5" r="2.90" fill="none" stroke="#2b2b2b" stroke-width="1.6"/>
<line x1="614.9" y1="436.5" x2="624.1" y2="436.5" stroke="#2b2b2b" stroke-width="1"/>
<line x1="619.5" y1="431.9" x2="619.5" y2="441.1" stroke="#2b2b2b" stroke-width="1"/>
<circle cx="619.5" cy="436.5" r="2.90" fill="none" stroke="#2b2b2b" stroke-width="1.6"/>
<line x1="579.9" y1="366.5" x2="589.1" y2="366.5" stroke="#2b2b2b" stroke-width="1"/>
<line x1="584.5" y1="361.9" x2="584.5" y2="371.1" stroke="#2b2b2b" stroke-width="1"/>
<circle cx="584.5" cy="366.5" r="2.90" fill="none" stroke="#2b2b2b" stroke-width="1.6"/>
<line x1="579.9" y1="436.5" x2="589.1" y2="436.5" stroke="#2b2b2b" stroke-width="1"/>
<line x1="584.5" y1="431.9" x2="584.5" y2="441.1" stroke="#2b2b2b" stroke-width="1"/>
<circle cx="584.5" cy="436.5" r="2.90" fill="none" stroke="#2b2b2b" stroke-width="1.6"/>
<line x1="579.9" y1="401.5" x2="589.1" y2="401.5" stroke="#2b2b2b" stroke-width="1"/>
<line x1="584.5" y1="396.9" x2="584.5" y2="406.1" stroke="#2b2b2b" stroke-width="1"/>
<circle cx="584.5" cy="401.5" r="2.2" fill="#2a2a2a" stroke="#2b2b2b" stroke-width="0.8"/>
<line x1="556.9" y1="379.5" x2="566.1" y2="379.5" stroke="#2b2b2b" stroke-width="1"/>
<line x1="561.5" y1="374.9" x2="561.5" y2="384.1" stroke="#2b2b2b" stroke-width="1"/>
<circle cx="561.5" cy="379.5" r="3.0" fill="#2a2a2a" stroke="#2b2b2b" stroke-width="0.8"/>
<line x1="601.9" y1="379.5" x2="611.1" y2="379.5" stroke="#2b2b2b" stroke-width="1"/>
<line x1="606.5" y1="374.9" x2="606.5" y2="384.1" stroke="#2b2b2b" stroke-width="1"/>
<circle cx="606.5" cy="379.5" r="3.0" fill="#2a2a2a" stroke="#2b2b2b" stroke-width="0.8"/>
<line x1="556.9" y1="424.5" x2="566.1" y2="424.5" stroke="#2b2b2b" stroke-width="1"/>
<line x1="561.5" y1="419.9" x2="561.5" y2="429.1" stroke="#2b2b2b" stroke-width="1"/>
<circle cx="561.5" cy="424.5" r="3.0" fill="#2a2a2a" stroke="#2b2b2b" stroke-width="0.8"/>
<line x1="601.9" y1="424.5" x2="611.1" y2="424.5" stroke="#2b2b2b" stroke-width="1"/>
<line x1="606.5" y1="419.9" x2="606.5" y2="429.1" stroke="#2b2b2b" stroke-width="1"/>
<circle cx="606.5" cy="424.5" r="3.0" fill="#2a2a2a" stroke="#2b2b2b" stroke-width="0.8"/>
<line x1="584.50" y1="430.00" x2="584.50" y2="478.00" stroke="#444" stroke-width="0.7" stroke-dasharray="8 2 1.5 2"/>
<line x1="542.50" y1="293.50" x2="542.50" y2="359.00" stroke="#2a2a2a" stroke-width="1.0"/>
<line x1="626.50" y1="293.50" x2="626.50" y2="359.00" stroke="#2a2a2a" stroke-width="1.0"/>
<line x1="542.50" y1="295.50" x2="626.50" y2="295.50" stroke="#2a2a2a" stroke-width="1.0"/>
<polygon points="542.50,295.50 547.50,294.15 548.80,295.50 547.50,296.85" fill="#222"/>
<polygon points="626.50,295.50 621.50,294.15 620.20,295.50 621.50,296.85" fill="#222"/>
<text x="0" y="0" font-size="8.8" text-anchor="middle" fill="#2e2e2e" letter-spacing="0.45" transform="translate(584.4 294.2) scale(0.9 1)">40</text>
<line x1="549.50" y1="305.00" x2="549.50" y2="367.00" stroke="#2a2a2a" stroke-width="1.0"/>
<line x1="584.50" y1="304.50" x2="584.50" y2="310.00" stroke="#2a2a2a" stroke-width="1.0"/>
<line x1="584.50" y1="319.50" x2="584.50" y2="369.00" stroke="#2a2a2a" stroke-width="1.0"/>
<line x1="619.50" y1="305.00" x2="619.50" y2="367.00" stroke="#2a2a2a" stroke-width="1.0"/>
<line x1="549.40" y1="306.50" x2="584.20" y2="306.50" stroke="#2a2a2a" stroke-width="1.0"/>
<polygon points="549.50,306.50 554.50,305.15 555.80,306.50 554.50,307.85" fill="#222"/>
<polygon points="584.50,306.50 579.50,305.15 578.20,306.50 579.50,307.85" fill="#222"/>
<line x1="584.20" y1="306.50" x2="619.70" y2="306.50" stroke="#2a2a2a" stroke-width="1.0"/>
<polygon points="584.50,306.50 589.50,305.15 590.80,306.50 589.50,307.85" fill="#222"/>
<polygon points="619.50,306.50 614.50,305.15 613.20,306.50 614.50,307.85" fill="#222"/>
<text x="0" y="0" font-size="8.8" text-anchor="middle" fill="#2e2e2e" letter-spacing="0.45" transform="translate(566.8 305.3) scale(0.9 1)">16</text>
<text x="0" y="0" font-size="8.8" text-anchor="middle" fill="#2e2e2e" letter-spacing="0.45" transform="translate(602.0 305.3) scale(0.9 1)">16</text>
<line x1="561.50" y1="316.00" x2="561.50" y2="380.00" stroke="#2a2a2a" stroke-width="1.0"/>
<line x1="607.50" y1="316.00" x2="607.50" y2="380.00" stroke="#2a2a2a" stroke-width="1.0"/>
<line x1="561.90" y1="317.50" x2="607.00" y2="317.50" stroke="#2a2a2a" stroke-width="1.0"/>
<polygon points="561.50,317.50 566.50,316.15 567.80,317.50 566.50,318.85" fill="#222"/>
<polygon points="607.50,317.50 602.50,316.15 601.20,317.50 602.50,318.85" fill="#222"/>
<text x="0" y="0" font-size="8.8" text-anchor="middle" fill="#2e2e2e" letter-spacing="0.45" transform="translate(584.4 316.1) scale(0.9 1)">20</text>
<line x1="598.50" y1="328.00" x2="598.50" y2="346.00" stroke="#2a2a2a" stroke-width="1.0"/>
<line x1="542.50" y1="329.50" x2="598.50" y2="329.50" stroke="#2a2a2a" stroke-width="1.0"/>
<polygon points="542.50,329.50 547.50,328.15 548.80,329.50 547.50,330.85" fill="#222"/>
<polygon points="598.50,329.50 593.50,328.15 592.20,329.50 593.50,330.85" fill="#222"/>
<text x="0" y="0" font-size="8.8" text-anchor="middle" fill="#2e2e2e" letter-spacing="0.45" transform="translate(570.5 328.1) scale(0.9 1)">28</text>
<line x1="626.50" y1="295.50" x2="654.50" y2="295.50" stroke="#2a2a2a" stroke-width="1.0"/>
<polygon points="626.50,295.50 631.50,294.15 632.80,295.50 631.50,296.85" fill="#222"/>
<polygon points="654.50,295.50 649.50,294.15 648.20,295.50 649.50,296.85" fill="#222"/>
<text x="0" y="0" font-size="8.8" text-anchor="middle" fill="#2e2e2e" letter-spacing="0.45" transform="translate(641.5 293.7) scale(0.9 1)">20.5</text>
<line x1="654.50" y1="292.00" x2="654.50" y2="319.00" stroke="#333" stroke-width="1.0"/>
<line x1="654.50" y1="334.00" x2="654.50" y2="393.00" stroke="#333" stroke-width="1.0" stroke-dasharray="16 2 1.5 2"/>
<line x1="508.00" y1="343.50" x2="593.00" y2="343.50" stroke="#333" stroke-width="1.0"/>
<line x1="506.50" y1="359.50" x2="542.50" y2="359.50" stroke="#2a2a2a" stroke-width="1.0"/>
<line x1="509.50" y1="343.40" x2="509.50" y2="359.40" stroke="#2a2a2a" stroke-width="1.0"/>
<polygon points="509.50,343.50 508.15,348.50 509.50,349.80 510.85,348.50" fill="#222"/>
<polygon points="509.50,359.50 508.15,354.50 509.50,353.20 510.85,354.50" fill="#222"/>
<text x="0" y="0" font-size="8.8" text-anchor="middle" fill="#2e2e2e" letter-spacing="0.45" transform="translate(506.5 351.4) rotate(-90) scale(0.9 1)">12.5</text>
<line x1="509.50" y1="359.40" x2="509.50" y2="442.90" stroke="#2a2a2a" stroke-width="1.0"/>
<polygon points="509.50,359.50 508.15,364.50 509.50,365.80 510.85,364.50" fill="#222"/>
<polygon points="509.50,442.50 508.15,437.50 509.50,436.20 510.85,437.50" fill="#222"/>
<text x="0" y="0" font-size="8.8" text-anchor="middle" fill="#2e2e2e" letter-spacing="0.45" transform="translate(508.0 401.0) rotate(-90) scale(0.9 1)">40</text>
<line x1="519.00" y1="366.50" x2="546.00" y2="366.50" stroke="#2a2a2a" stroke-width="1.0"/>
<line x1="519.00" y1="436.50" x2="546.00" y2="436.50" stroke="#2a2a2a" stroke-width="1.0"/>
<line x1="518.50" y1="401.50" x2="524.80" y2="401.50" stroke="#2a2a2a" stroke-width="1.0"/>
<line x1="533.20" y1="401.50" x2="546.00" y2="401.50" stroke="#2a2a2a" stroke-width="1.0"/>
<line x1="521.50" y1="366.50" x2="521.50" y2="401.20" stroke="#2a2a2a" stroke-width="1.0"/>
<polygon points="521.50,366.50 520.15,371.50 521.50,372.80 522.85,371.50" fill="#222"/>
<polygon points="521.50,401.50 520.15,396.50 521.50,395.20 522.85,396.50" fill="#222"/>
<line x1="521.50" y1="401.20" x2="521.50" y2="436.00" stroke="#2a2a2a" stroke-width="1.0"/>
<polygon points="521.50,401.50 520.15,406.50 521.50,407.80 522.85,406.50" fill="#222"/>
<polygon points="521.50,436.50 520.15,431.50 521.50,430.20 522.85,431.50" fill="#222"/>
<text x="0" y="0" font-size="8.8" text-anchor="middle" fill="#2e2e2e" letter-spacing="0.45" transform="translate(520.6 384.0) rotate(-90) scale(0.9 1)">16</text>
<text x="0" y="0" font-size="8.8" text-anchor="middle" fill="#2e2e2e" letter-spacing="0.45" transform="translate(520.6 419.2) rotate(-90) scale(0.9 1)">16</text>
<line x1="531.00" y1="379.50" x2="559.00" y2="379.50" stroke="#2a2a2a" stroke-width="1.0"/>
<line x1="531.00" y1="424.50" x2="559.00" y2="424.50" stroke="#2a2a2a" stroke-width="1.0"/>
<line x1="532.50" y1="379.00" x2="532.50" y2="424.00" stroke="#2a2a2a" stroke-width="1.0"/>
<polygon points="532.50,379.50 531.15,384.50 532.50,385.80 533.85,384.50" fill="#222"/>
<polygon points="532.50,424.50 531.15,419.50 532.50,418.20 533.85,419.50" fill="#222"/>
<text x="0" y="0" font-size="8.8" text-anchor="middle" fill="#2e2e2e" letter-spacing="0.45" transform="translate(531.9 401.2) rotate(-90) scale(0.9 1)">20</text>
<line x1="506.50" y1="442.50" x2="542.50" y2="442.50" stroke="#2a2a2a" stroke-width="1.0"/>
<line x1="530.00" y1="455.50" x2="570.50" y2="455.50" stroke="#2a2a2a" stroke-width="1.0"/>
<line x1="532.50" y1="442.90" x2="532.50" y2="455.30" stroke="#2a2a2a" stroke-width="1.0"/>
<polygon points="532.50,442.50 531.15,447.50 532.50,448.80 533.85,447.50" fill="#222"/>
<polygon points="532.50,455.50 531.15,450.50 532.50,449.20 533.85,450.50" fill="#222"/>
<text x="0" y="0" font-size="8.8" text-anchor="middle" fill="#2e2e2e" letter-spacing="0.45" transform="translate(531.2 449.2) rotate(-90) scale(0.9 1)">8</text>
<line x1="506.50" y1="471.50" x2="576.00" y2="471.50" stroke="#2a2a2a" stroke-width="1.0"/>
<line x1="508.50" y1="442.90" x2="508.50" y2="471.30" stroke="#2a2a2a" stroke-width="1.0"/>
<polygon points="508.50,442.50 507.15,447.50 508.50,448.80 509.85,447.50" fill="#222"/>
<polygon points="508.50,471.50 507.15,466.50 508.50,465.20 509.85,466.50" fill="#222"/>
<text x="0" y="0" font-size="8.8" text-anchor="middle" fill="#2e2e2e" letter-spacing="0.45" transform="translate(507.7 456.7) rotate(-90) scale(0.9 1)">20.5</text>
<line x1="570.50" y1="455.00" x2="570.50" y2="488.00" stroke="#2a2a2a" stroke-width="1.0"/>
<line x1="598.50" y1="455.00" x2="598.50" y2="488.00" stroke="#2a2a2a" stroke-width="1.0"/>
<line x1="570.50" y1="485.50" x2="598.80" y2="485.50" stroke="#2a2a2a" stroke-width="1.0"/>
<polygon points="570.50,485.50 575.50,484.15 576.80,485.50 575.50,486.85" fill="#222"/>
<polygon points="598.50,485.50 593.50,484.15 592.20,485.50 593.50,486.85" fill="#222"/>
<text x="0" y="0" font-size="8.8" text-anchor="middle" fill="#2e2e2e" letter-spacing="0.45" transform="translate(584.7 483.3) scale(0.9 1)">20</text>
<line x1="642.50" y1="422.60" x2="642.50" y2="452.00" stroke="#2a2a2a" stroke-width="1.0"/>
<line x1="626.50" y1="442.90" x2="626.50" y2="452.00" stroke="#2a2a2a" stroke-width="1.0"/>
<line x1="618.00" y1="448.50" x2="652.00" y2="448.50" stroke="#2a2a2a" stroke-width="1.0"/>
<polygon points="626.50,448.50 621.50,447.15 620.20,448.50 621.50,449.85" fill="#222"/>
<polygon points="642.50,448.50 647.50,447.15 648.80,448.50 647.50,449.85" fill="#222"/>
<text x="0" y="0" font-size="8.8" text-anchor="middle" fill="#2e2e2e" letter-spacing="0.45" transform="translate(634.5 447.3) scale(0.9 1)">8.5</text>
<line x1="626.50" y1="359.50" x2="667.30" y2="359.50" stroke="#2a2a2a" stroke-width="1.0"/>
<line x1="623.00" y1="415.50" x2="668.00" y2="415.50" stroke="#2a2a2a" stroke-width="1.0"/>
<line x1="665.50" y1="359.40" x2="665.50" y2="415.30" stroke="#2a2a2a" stroke-width="1.0"/>
<polygon points="665.50,359.50 664.15,364.50 665.50,365.80 666.85,364.50" fill="#222"/>
<polygon points="665.50,415.50 664.15,410.50 665.50,409.20 666.85,410.50" fill="#222"/>
<text x="0" y="0" font-size="8.8" text-anchor="middle" fill="#2e2e2e" letter-spacing="0.45" transform="translate(664.5 386.7) rotate(-90) scale(0.9 1)">28</text>
<line x1="620.00" y1="401.50" x2="657.60" y2="401.50" stroke="#555" stroke-width="0.6"/>
<line x1="497.00" y1="334.50" x2="531.00" y2="334.50" stroke="#2a2a2a" stroke-width="1.0"/>
<line x1="531.00" y1="334.00" x2="546.50" y2="360.50" stroke="#2a2a2a" stroke-width="1.0"/>
<text x="514.8" y="332.0" font-size="8.6" text-anchor="middle" fill="#2e2e2e" font-weight="normal">8-M3深5</text>
<line x1="626.60" y1="334.50" x2="693.40" y2="334.50" stroke="#2a2a2a" stroke-width="1.0"/>
<line x1="626.60" y1="334.50" x2="605.70" y2="344.20" stroke="#2a2a2a" stroke-width="1.0"/>
<text x="661.5" y="331.5" font-size="8.6" text-anchor="middle" fill="#2e2e2e" font-weight="normal">固定夹(M3×3.5)</text>
<line x1="620.70" y1="464.50" x2="656.00" y2="464.50" stroke="#2a2a2a" stroke-width="1.0"/>
<line x1="620.70" y1="464.10" x2="607.50" y2="426.50" stroke="#2a2a2a" stroke-width="1.0"/>
<text x="640.0" y="462.2" font-size="8.6" text-anchor="middle" fill="#2e2e2e" font-weight="normal">5-M2深5</text>
<rect x="526.4" y="501.6" width="6.6" height="7.6" rx="1.3" fill="none" stroke="#ef8a1e" stroke-width="1"/>
<rect x="529.2" y="503.2" width="1.1" height="3.2" fill="#ef8a1e"/><rect x="529.2" y="507" width="1.1" height="1" fill="#ef8a1e"/>
<text x="535.0" y="508.4" font-size="8.3" text-anchor="start" fill="#ef8a1e" font-weight="bold">DJK02-40</text>
<text x="576.0" y="508.8" font-size="8.7" text-anchor="start" fill="#444" font-weight="normal">规格无中心螺纹孔。</text>
</svg>
</body></html>
